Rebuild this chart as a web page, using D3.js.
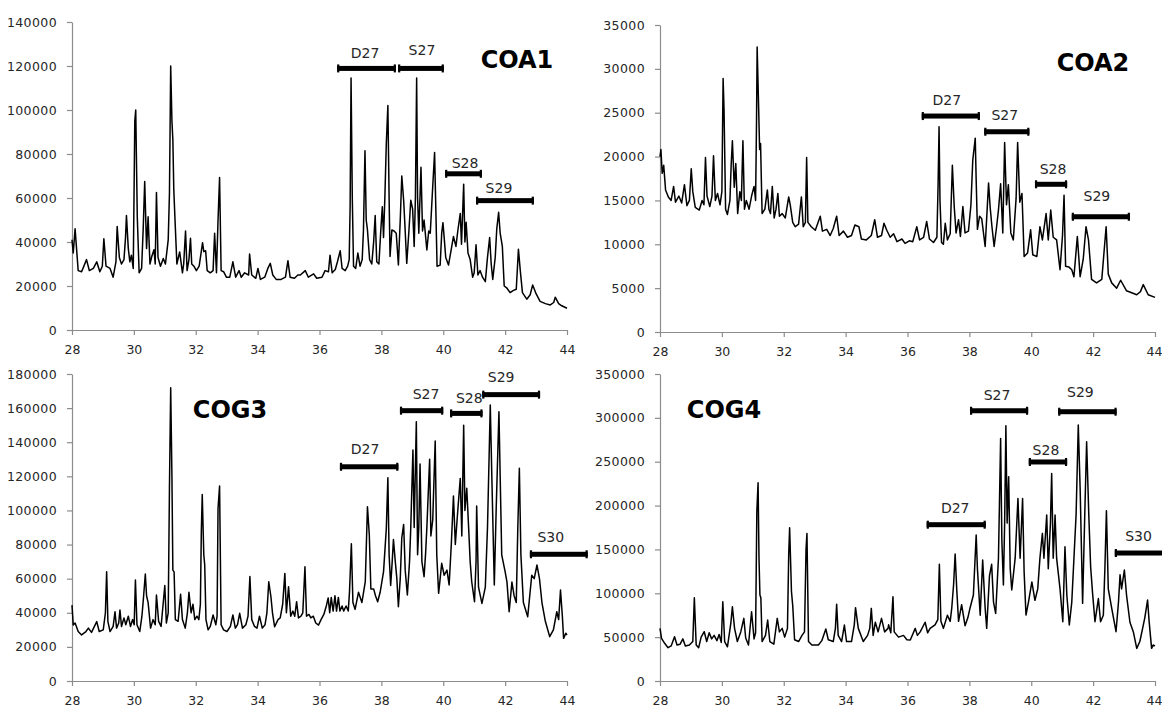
<!DOCTYPE html>
<html><head><meta charset="utf-8">
<script src="https://cdn.jsdelivr.net/npm/d3@7"></script>
<style>body{margin:0;background:#fff}</style>
</head><body><svg id="c" width="1162" height="709"></svg>
<script>
// ---------- DATA ----------
const xTickValues = [28, 30, 32, 34, 36, 38, 40, 42, 44];
const panelNames = ["COA1", "COA2", "COG3", "COG4"];
const yMaxima = [140000, 35000, 180000, 350000];
const yTickSteps = [20000, 5000, 20000, 50000];

// retention time (min), abundance
const coa1 = [[28.00,41000],[28.04,35000],[28.10,46000],[28.20,27000],[28.31,26500],[28.47,32000],[28.56,27000],[28.69,28000],[28.80,31000],[28.90,26500],[28.98,29000],[29.03,41500],[29.10,29000],[29.23,28000],[29.33,24000],[29.42,31000],[29.46,47000],[29.53,33000],[29.60,30000],[29.68,32000],[29.73,42000],[29.76,52000],[29.82,37000],[29.87,31000],[29.92,34000],[29.98,28000],[30.03,95000],[30.06,100000],[30.11,51500],[30.17,26000],[30.25,28000],[30.30,45500],[30.35,67500],[30.41,37000],[30.46,51500],[30.52,30000],[30.58,33500],[30.65,36500],[30.69,30000],[30.73,62500],[30.78,33000],[30.86,29000],[30.95,32500],[31.02,30000],[31.11,41000],[31.15,62000],[31.19,120000],[31.23,95000],[31.26,86500],[31.29,64000],[31.33,50000],[31.39,30000],[31.48,35500],[31.57,26000],[31.61,30000],[31.67,45000],[31.72,27000],[31.78,32000],[31.83,41700],[31.87,30000],[31.94,29000],[32.02,27000],[32.11,29000],[32.22,39700],[32.26,35600],[32.32,36000],[32.37,27000],[32.47,26000],[32.56,27000],[32.61,44000],[32.67,26000],[32.72,50000],[32.77,69300],[32.82,27000],[32.90,26500],[32.99,24000],[33.10,24000],[33.20,31000],[33.29,24000],[33.40,27000],[33.47,24000],[33.58,26000],[33.71,25000],[33.74,34500],[33.81,25000],[33.94,23500],[34.01,28000],[34.09,23000],[34.23,24000],[34.33,28000],[34.41,30300],[34.49,25000],[34.60,23000],[34.76,23000],[34.90,24000],[34.98,31500],[35.05,24000],[35.19,23500],[35.30,25000],[35.38,25000],[35.54,27000],[35.64,24000],[35.81,25500],[35.91,23500],[36.08,24000],[36.18,27000],[36.29,26500],[36.34,34000],[36.41,26000],[36.51,27500],[36.58,31000],[36.67,36000],[36.73,28000],[36.83,27000],[36.91,29000],[36.96,32000],[36.99,56000],[37.02,114500],[37.06,60000],[37.10,29000],[37.17,28000],[37.24,35000],[37.31,29000],[37.38,32000],[37.42,45000],[37.47,81500],[37.51,50000],[37.55,45500],[37.62,32000],[37.69,30000],[37.75,40000],[37.80,52000],[37.85,31000],[37.92,30000],[37.98,45000],[38.03,56000],[38.07,42000],[38.11,59000],[38.16,85000],[38.21,102000],[38.25,60000],[38.28,33400],[38.34,45500],[38.41,45000],[38.48,44000],[38.55,29600],[38.61,50000],[38.66,70000],[38.72,59000],[38.77,45000],[38.82,30300],[38.89,45000],[38.95,59000],[39.01,55000],[39.06,38000],[39.10,60000],[39.14,114500],[39.17,60000],[39.21,44000],[39.28,74000],[39.33,45000],[39.38,50000],[39.47,36400],[39.53,45000],[39.58,44000],[39.64,60000],[39.72,80700],[39.76,55000],[39.80,29000],[39.90,29500],[39.95,44000],[39.99,48800],[40.03,42000],[40.08,33000],[40.17,29500],[40.25,36000],[40.33,42500],[40.41,38000],[40.47,45000],[40.55,53000],[40.59,39000],[40.66,66300],[40.70,40000],[40.74,49000],[40.80,35000],[40.87,32000],[40.95,24000],[41.00,26000],[41.06,38700],[41.12,25000],[41.19,27000],[41.27,24000],[41.36,22000],[41.43,33000],[41.50,42000],[41.55,30000],[41.60,23000],[41.68,33000],[41.73,46000],[41.79,53500],[41.84,44000],[41.91,38000],[41.97,20000],[42.06,19000],[42.16,17000],[42.27,18000],[42.36,18500],[42.43,36700],[42.49,27000],[42.56,17000],[42.70,14000],[42.81,16000],[42.89,20500],[43.00,16500],[43.13,13000],[43.30,12000],[43.46,11400],[43.57,12500],[43.62,14900],[43.73,12000],[43.83,11000],[44.00,9900]];

const coa2 = [[28.00,20000],[28.03,20800],[28.07,18100],[28.12,19000],[28.18,16200],[28.27,15400],[28.36,15000],[28.44,16600],[28.50,14800],[28.61,15500],[28.70,14700],[28.79,16800],[28.87,14400],[28.95,15000],[29.01,18600],[29.06,16000],[29.14,14200],[29.27,13900],[29.36,15000],[29.42,14500],[29.47,19900],[29.52,15500],[29.61,14300],[29.68,15500],[29.73,20100],[29.79,15000],[29.86,15800],[29.94,14500],[30.00,16000],[30.04,28900],[30.07,25300],[30.12,14000],[30.18,13400],[30.26,15000],[30.30,19000],[30.34,21800],[30.40,16500],[30.45,19200],[30.51,13500],[30.58,16000],[30.63,15000],[30.68,21800],[30.73,14000],[30.79,15000],[30.88,14000],[30.96,15500],[31.04,16600],[31.09,15000],[31.12,24000],[31.14,32500],[31.19,25300],[31.22,20800],[31.25,21500],[31.30,13500],[31.39,14000],[31.47,16200],[31.52,14000],[31.57,13500],[31.63,16600],[31.69,13000],[31.75,14000],[31.81,15800],[31.86,13200],[31.95,13500],[32.05,13000],[32.16,15400],[32.21,14500],[32.29,12500],[32.37,12000],[32.48,12300],[32.57,15400],[32.63,12000],[32.70,12500],[32.74,19900],[32.78,12500],[32.89,12000],[33.02,11600],[33.18,13200],[33.25,11500],[33.39,11700],[33.50,11000],[33.60,11800],[33.71,13200],[33.79,11000],[33.93,11500],[34.06,10800],[34.19,11000],[34.30,12200],[34.43,12000],[34.51,10600],[34.67,10500],[34.83,11000],[34.94,12800],[35.03,10800],[35.16,11000],[35.24,12400],[35.33,11600],[35.44,10800],[35.55,11200],[35.66,10300],[35.82,10600],[35.92,10100],[36.06,10400],[36.17,10300],[36.30,12000],[36.39,10500],[36.52,10800],[36.62,12600],[36.71,10600],[36.84,10200],[36.95,10800],[36.99,17000],[37.02,23400],[37.05,15000],[37.10,10200],[37.16,10000],[37.22,12400],[37.29,10500],[37.38,11200],[37.45,19000],[37.51,14300],[37.57,11300],[37.65,12800],[37.71,10900],[37.79,14300],[37.86,11300],[37.97,11500],[38.05,14500],[38.11,19600],[38.19,22100],[38.22,17300],[38.26,11700],[38.33,13200],[38.40,12900],[38.51,9750],[38.56,13000],[38.62,17000],[38.67,14300],[38.73,12000],[38.80,9750],[38.88,12000],[38.94,13900],[39.01,16900],[39.08,11300],[39.14,21600],[39.20,14500],[39.26,16800],[39.34,11300],[39.42,10500],[39.51,15200],[39.56,21600],[39.63,14800],[39.70,15800],[39.77,8600],[39.88,9000],[39.98,11650],[40.05,8800],[40.18,8600],[40.28,12000],[40.36,10500],[40.48,13500],[40.55,10500],[40.63,13900],[40.71,10800],[40.82,10500],[40.93,7100],[41.01,11000],[41.06,15600],[41.11,7500],[41.22,7400],[41.31,7100],[41.38,6300],[41.49,10900],[41.58,6300],[41.68,8300],[41.77,12000],[41.85,10500],[41.95,6000],[42.11,5600],[42.28,6000],[42.35,9000],[42.42,12000],[42.49,6600],[42.60,5600],[42.76,5000],[42.89,5900],[43.08,4700],[43.41,4250],[43.53,4600],[43.62,5400],[43.78,4250],[44.00,3950]];

const cog3 = [[28.00,44500],[28.04,32800],[28.10,34000],[28.20,29000],[28.31,27000],[28.45,29000],[28.53,31000],[28.63,28500],[28.80,34800],[28.88,29000],[29.01,30000],[29.08,40000],[29.12,64000],[29.16,35000],[29.23,29000],[29.33,32000],[29.39,40600],[29.44,31000],[29.51,34000],[29.55,41600],[29.60,32000],[29.68,37000],[29.74,33000],[29.82,38000],[29.89,32000],[29.96,36000],[30.01,33000],[30.05,59200],[30.10,33000],[30.19,29000],[30.26,38000],[30.30,46500],[30.37,62700],[30.41,50000],[30.46,46000],[30.54,31000],[30.62,36000],[30.69,33000],[30.73,50400],[30.80,35000],[30.88,32000],[30.95,46000],[31.00,56000],[31.05,34000],[31.11,40000],[31.15,113000],[31.19,172000],[31.23,120000],[31.26,65000],[31.30,64000],[31.34,36000],[31.43,35000],[31.51,50800],[31.57,36000],[31.66,31000],[31.73,40000],[31.78,52000],[31.85,40000],[31.91,45000],[31.97,36000],[32.04,38000],[32.10,36000],[32.15,45000],[32.18,87500],[32.21,109400],[32.26,74000],[32.29,68000],[32.33,36000],[32.40,30000],[32.47,32000],[32.56,38700],[32.65,33000],[32.69,38000],[32.72,101000],[32.77,114300],[32.82,33000],[32.90,30000],[33.01,29000],[33.12,32000],[33.20,38700],[33.28,31000],[33.35,33000],[33.42,39700],[33.51,31000],[33.62,33000],[33.69,38000],[33.75,61200],[33.81,36000],[33.90,32000],[33.98,31000],[34.06,38000],[34.15,31000],[34.24,33000],[34.30,40000],[34.36,58200],[34.43,49400],[34.48,40000],[34.55,31800],[34.66,36000],[34.73,37000],[34.81,45000],[34.88,63100],[34.93,40000],[35.00,55300],[35.07,38000],[35.14,41000],[35.20,38000],[35.26,46500],[35.32,37000],[35.40,38000],[35.46,40000],[35.53,67000],[35.58,38000],[35.66,39000],[35.72,37000],[35.80,38000],[35.88,34000],[35.97,32800],[36.05,36000],[36.14,39000],[36.22,44000],[36.28,48700],[36.33,40000],[36.38,49000],[36.44,41000],[36.50,50000],[36.55,41000],[36.61,49000],[36.66,41000],[36.73,44000],[36.78,41000],[36.86,44000],[36.93,41000],[36.97,52400],[37.03,80500],[37.08,46000],[37.15,42000],[37.26,52000],[37.37,46000],[37.48,58200],[37.55,102200],[37.61,85600],[37.66,54000],[37.75,54000],[37.81,50000],[37.88,46500],[37.96,52000],[38.07,64100],[38.16,89500],[38.21,119200],[38.25,74000],[38.30,56000],[38.35,70000],[38.39,83000],[38.45,70000],[38.50,60000],[38.55,43600],[38.61,60000],[38.66,84000],[38.72,91800],[38.77,65000],[38.84,50400],[38.91,70000],[38.95,90000],[39.02,135400],[39.06,90000],[39.13,152000],[39.17,74000],[39.21,90000],[39.25,127200],[39.31,70000],[39.38,61200],[39.43,75000],[39.47,90000],[39.56,130000],[39.60,85000],[39.66,94400],[39.74,140700],[39.79,74000],[39.85,51400],[39.90,60000],[39.95,69000],[40.03,62000],[40.12,65000],[40.19,56300],[40.26,80000],[40.33,108400],[40.39,80000],[40.47,100000],[40.55,118800],[40.60,85000],[40.66,150000],[40.70,100000],[40.76,113000],[40.82,90000],[40.87,70000],[40.92,58200],[41.01,46500],[41.06,70000],[41.08,102600],[41.14,55000],[41.25,45500],[41.36,55000],[41.43,90000],[41.52,161800],[41.57,120000],[41.65,56300],[41.71,100000],[41.80,157900],[41.84,120000],[41.89,74000],[42.00,64100],[42.06,58000],[42.13,40600],[42.22,58000],[42.29,50000],[42.36,46000],[42.41,90000],[42.46,124700],[42.51,74000],[42.59,46000],[42.73,37700],[42.86,62000],[42.94,60000],[43.03,68000],[43.11,60000],[43.19,46000],[43.30,35000],[43.44,26000],[43.56,30000],[43.67,40600],[43.73,36000],[43.79,53300],[43.85,38000],[43.89,25000],[43.96,28000],[44.00,27000]];

const cog4 = [[28.00,60000],[28.05,48600],[28.15,43000],[28.26,38000],[28.36,40000],[28.47,50500],[28.55,41000],[28.65,42000],[28.74,48000],[28.82,40000],[28.95,41000],[29.06,45000],[29.11,95000],[29.17,41000],[29.25,38000],[29.33,50000],[29.43,56200],[29.51,45000],[29.59,55000],[29.67,48000],[29.75,52000],[29.84,46000],[29.91,53000],[29.98,44000],[30.03,90400],[30.09,45000],[30.18,39000],[30.29,66000],[30.34,84700],[30.41,60000],[30.50,45000],[30.61,56000],[30.71,71400],[30.77,49000],[30.86,41000],[30.96,79000],[31.04,48000],[31.09,55000],[31.13,193000],[31.17,226000],[31.20,140000],[31.23,98000],[31.26,95000],[31.30,45000],[31.41,52000],[31.48,69500],[31.55,45000],[31.68,42000],[31.79,71400],[31.86,56000],[31.95,60000],[32.03,50000],[32.12,60000],[32.16,143600],[32.19,174800],[32.25,101800],[32.29,86000],[32.35,47000],[32.48,45000],[32.59,52000],[32.67,56000],[32.72,150000],[32.75,168300],[32.80,45000],[32.91,41000],[33.12,41000],[33.23,46000],[33.36,59300],[33.44,47000],[33.60,45000],[33.67,60000],[33.71,87400],[33.76,52000],[33.87,45000],[33.96,63800],[34.03,45000],[34.19,45000],[34.28,64000],[34.32,83600],[34.41,60000],[34.57,45000],[34.71,52000],[34.78,60000],[34.83,82800],[34.89,52000],[34.96,67000],[35.05,56000],[35.16,71400],[35.26,56000],[35.37,60000],[35.39,64000],[35.46,55000],[35.53,96000],[35.57,56000],[35.71,50000],[35.87,52000],[35.98,47000],[36.09,46700],[36.25,60000],[36.32,52000],[36.41,56000],[36.57,67000],[36.65,55000],[36.73,60000],[36.89,64000],[36.98,70000],[37.03,133000],[37.08,68000],[37.16,60000],[37.29,75000],[37.38,68000],[37.43,83000],[37.49,110000],[37.54,144800],[37.59,105600],[37.65,68000],[37.75,87000],[37.86,63000],[37.95,72000],[38.02,83000],[38.13,98000],[38.22,166400],[38.26,128000],[38.35,75000],[38.43,138000],[38.51,83000],[38.56,60000],[38.65,120000],[38.72,133000],[38.78,90000],[38.85,77100],[38.94,140000],[39.01,276600],[39.05,160000],[39.10,109400],[39.14,180000],[39.18,291000],[39.22,180000],[39.27,233000],[39.32,128000],[39.37,103700],[39.48,140000],[39.57,208000],[39.64,140000],[39.72,208000],[39.77,124000],[39.83,75200],[39.91,90000],[40.02,113000],[40.12,92000],[40.21,105000],[40.28,139800],[40.36,168300],[40.41,140000],[40.50,189200],[40.55,128000],[40.62,180000],[40.66,236700],[40.71,140000],[40.77,189200],[40.82,140000],[40.93,105000],[41.02,67600],[41.09,153100],[41.15,98000],[41.23,63800],[41.31,90000],[41.38,140000],[41.45,190000],[41.52,291800],[41.58,220000],[41.66,88500],[41.73,190000],[41.79,272800],[41.86,189200],[41.92,130000],[41.98,101000],[42.06,67600],[42.17,94000],[42.24,67600],[42.33,75000],[42.38,128000],[42.43,194200],[42.49,105000],[42.60,83000],[42.74,56200],[42.82,90000],[42.87,121000],[42.92,105000],[43.01,126500],[43.08,98000],[43.19,67000],[43.30,56000],[43.41,37200],[43.51,45000],[43.60,60000],[43.67,72000],[43.76,92300],[43.81,68000],[43.89,37200],[43.94,41000],[44.00,40000]];

const traces = [coa1, coa2, cog3, cog4];

// compound-class ranges: [label, start time, end time, level]
const coa1Ranges = [["D27",36.57,38.47,118900],["S27",38.54,40.02,118900],["S28",40.06,41.25,71000],["S29",41.06,42.93,58800]];
const coa2Ranges = [["D27",36.46,38.34,24620],["S27",38.48,39.94,22830],["S28",40.12,41.16,16840],["S29",41.31,43.19,13140]];
const cog3Ranges = [["D27",36.66,38.55,125600],["S27",38.60,40.00,158500],["S28",40.22,41.27,156900],["S29",41.26,43.13,167900],["S30",42.80,44.67,74300]];
const cog4Ranges = [["D27",36.62,38.53,178200],["S27",38.02,39.90,308100],["S28",39.92,41.16,249700],["S29",40.87,42.76,307000],["S30",42.70,44.30,145900]];
const ranges = [coa1Ranges, coa2Ranges, cog3Ranges, cog4Ranges];

// ---------- LAYOUT ----------
const layout = [
  {x0:72,  x1:567,  y0:330, y1:22,  titleX:517, titleY:59,  lab:[[-1.5,-15],[1,-18.5],[1.5,-11],[-6,-12.7]]},
  {x0:660, x1:1155, y0:332, y1:25,  titleX:1093, titleY:62, lab:[[-4,-15.7],[-2,-16.3],[2,-15.3],[-4,-20.3]]},
  {x0:72,  x1:567,  y0:681, y1:374, titleX:230, titleY:409, lab:[[-4,-17.7],[4.5,-16.7],[3,-15],[-10,-18],[-8,-17.7]]},
  {x0:660, x1:1155, y0:681, y1:374, titleX:724, titleY:409, lab:[[-1,-17],[-2,-15.7],[-2,-12],[-7,-19.3],[-1,-17.3]]}
];

const svg = d3.select("#c");
const FONT = "DejaVu Sans, Verdana, sans-serif";

layout.forEach((L, i) => {
  const x = d3.scaleLinear().domain([28, 44]).range([L.x0, L.x1]);
  const y = d3.scaleLinear().domain([0, yMaxima[i]]).range([L.y0, L.y1]);
  const g = svg.append("g");

  const yAx = g.append("g").attr("transform", `translate(${L.x0},0)`)
    .call(d3.axisLeft(y).tickValues(d3.range(0, yMaxima[i] + 1, yTickSteps[i]))
      .tickSize(5).tickSizeOuter(0).tickPadding(10).tickFormat(d3.format("d")));
  const xAx = g.append("g").attr("transform", `translate(0,${L.y0})`)
    .call(d3.axisBottom(x).tickValues(xTickValues).tickSize(5).tickSizeOuter(0).tickPadding(10).tickFormat(d3.format("d")));
  [yAx, xAx].forEach(a => {
    a.select(".domain").attr("stroke", "#8c8c8c").attr("stroke-width", 1.2);
    a.selectAll(".tick line").attr("stroke", "#8c8c8c").attr("stroke-width", 1.2);
    a.selectAll(".tick text").attr("fill", "#262626").style("font-family", FONT).style("font-size", "12.5px");
  });
  yAx.selectAll(".tick text").style("letter-spacing", "0.4px");
  // keep the last x label inside the page on the right-hand panels
  if (L.x1 > 1100) {
    xAx.selectAll(".tick text").filter(d => d === 44).attr("text-anchor", "end").attr("dx", "7px");
  }

  const line = d3.line().x(d => x(d[0])).y(d => y(d[1]));
  g.append("path").datum(traces[i]).attr("d", line)
    .attr("fill", "none").attr("stroke", "#000").attr("stroke-width", 1.5).attr("stroke-linejoin", "round");

  ranges[i].forEach((r, k) => {
    const px0 = x(r[1]), px1 = x(r[2]), py = y(r[3]);
    g.append("rect").attr("x", px0).attr("y", py - 2.5).attr("width", px1 - px0).attr("height", 5).attr("fill", "#000");
    g.append("rect").attr("x", px0).attr("y", py - 4).attr("width", 2.2).attr("height", 8).attr("fill", "#000");
    g.append("rect").attr("x", px1 - 2.2).attr("y", py - 4).attr("width", 2.2).attr("height", 8).attr("fill", "#000");
    const off = L.lab[k];
    g.append("text").attr("x", (px0 + px1) / 2 + off[0]).attr("y", py + off[1] + 5)
      .attr("text-anchor", "middle").style("font-family", FONT).style("font-size", "14px")
      .attr("fill", "#262626").text(r[0]);
  });

  g.append("text").attr("x", L.titleX).attr("y", L.titleY + 8.7)
    .attr("text-anchor", "middle").style("font-family", FONT).style("font-size", "24px")
    .style("font-weight", "bold").attr("fill", "#000").text(panelNames[i]);
});
</script>
</body></html>
